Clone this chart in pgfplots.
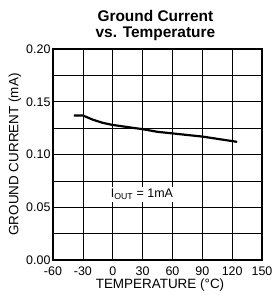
\documentclass[border=0pt]{standalone}
\usepackage{pgfplots}
\pgfplotsset{compat=1.18}
\usetikzlibrary{calc}
\usepackage{fontspec}
\setmainfont{Liberation Sans}
\begin{document}
\begin{tikzpicture}
\begin{axis}[
  width=209bp, height=211bp, scale only axis,
  anchor=south west, at={(0,0)},
  xmin=-60, xmax=150, ymin=0, ymax=0.20,
  xtick={-60,-30,0,30,60,90,120,150},
  ytick={0,0.05,0.10,0.15,0.20},
  minor ytick={0.025,0.075,0.125,0.175},
  yticklabel style={/pgf/number format/fixed,/pgf/number format/fixed zerofill,/pgf/number format/precision=2},
  /pgf/number format/assume math mode=true,
  grid=both,
  major grid style={black, line width=0.7pt},
  minor grid style={black, line width=0.7pt},
  axis line style={black, line width=1.4pt},
  tick style={draw=none},
  ticklabel style={font=\fontsize{12.5}{14}\selectfont},
  xticklabel style={yshift=-3pt},
  yticklabel style={xshift=1pt},
  xlabel={TEMPERATURE (\textdegree C)},
  ylabel={GROUND CURRENT (mA)},
  every axis x label/.style={at={(axis description cs:0.512,-0.118)}, anchor=center, font=\fontsize{13.5}{15}\selectfont},
  every axis y label/.style={at={(axis description cs:-0.182,0.5)}, anchor=center, rotate=90, font=\fontsize{13.5}{15}\selectfont},
  title={\textbf{Ground Current}\\\textbf{vs. Temperature}},
  every axis title/.style={at={(axis description cs:0.49,1.0)}, anchor=south, yshift=5pt},
  title style={align=center, font=\fontsize{15.5}{16}\selectfont},
]
\addplot[black, line width=2.2pt] coordinates {
(-39,0.137) (-30,0.137) (-20,0.133) (-10,0.130) (0,0.128) (15,0.126) (30,0.124) (45,0.1215) (60,0.120) (90,0.117) (125,0.112)
};
\node[fill=white, inner sep=2pt, anchor=base, font=\fontsize{12.5}{14}\selectfont] at (axis cs:29.4,0.0588) {I\textsubscript{OUT} = 1mA};
\end{axis}
\pgfresetboundingbox
\path ($(current axis.south west)+(-53bp,-35bp)$) rectangle ($(current axis.north east)+(12bp,49bp)$);
\end{tikzpicture}
\end{document}
